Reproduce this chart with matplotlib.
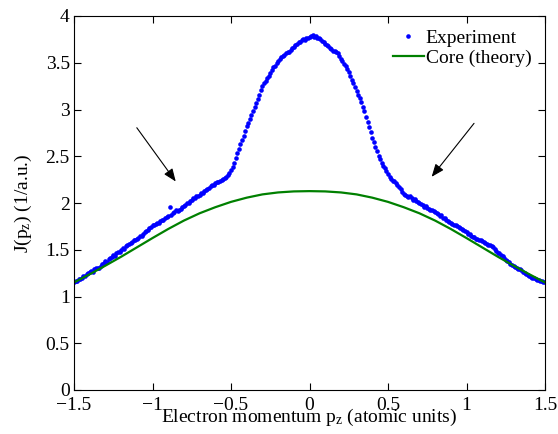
import numpy as np
import matplotlib
matplotlib.use('Agg')
import matplotlib.pyplot as plt

plt.rcParams['font.family'] = ['Liberation Serif', 'DejaVu Serif']
plt.rcParams['mathtext.fontset'] = 'custom'
plt.rcParams['mathtext.rm'] = 'Liberation Serif'
plt.rcParams['mathtext.it'] = 'Liberation Serif:italic'
plt.rcParams['font.size'] = 14

# measured Compton profile, one point every 0.01 a.u. from -1.5 to 1.5
exp_p = np.round(np.arange(-150, 151) / 100.0, 2)
exp_j = [
    1.16, 1.17, 1.17, 1.19, 1.19, 1.20, 1.22, 1.22, 1.24, 1.25,
    1.26, 1.27, 1.26, 1.29, 1.30, 1.31, 1.31, 1.33, 1.35, 1.36,
    1.38, 1.37, 1.40, 1.41, 1.42, 1.44, 1.43, 1.46, 1.48, 1.48,
    1.50, 1.52, 1.51, 1.54, 1.55, 1.56, 1.57, 1.58, 1.60, 1.60,
    1.62, 1.63, 1.65, 1.65, 1.67, 1.69, 1.70, 1.71, 1.73, 1.74,
    1.76, 1.76, 1.78, 1.79, 1.79, 1.81, 1.82, 1.82, 1.84, 1.85,
    1.86, 1.96, 1.87, 1.89, 1.90, 1.92, 1.91, 1.93, 1.94, 1.96,
    1.97, 1.98, 2.00, 2.00, 2.02, 2.03, 2.05, 2.05, 2.07, 2.08,
    2.09, 2.11, 2.11, 2.13, 2.14, 2.15, 2.16, 2.18, 2.19, 2.19,
    2.21, 2.22, 2.22, 2.24, 2.25, 2.26, 2.27, 2.28, 2.30, 2.32,
    2.35, 2.39, 2.43, 2.48, 2.53, 2.58, 2.63, 2.67, 2.72, 2.77,
    2.82, 2.86, 2.90, 2.94, 2.98, 3.03, 3.07, 3.11, 3.16, 3.21,
    3.25, 3.28, 3.31, 3.34, 3.36, 3.39, 3.42, 3.45, 3.47, 3.50,
    3.52, 3.54, 3.56, 3.57, 3.58, 3.60, 3.62, 3.62, 3.64, 3.66,
    3.67, 3.69, 3.70, 3.72, 3.72, 3.74, 3.75, 3.74, 3.76, 3.77,
    3.78, 3.79, 3.80, 3.78, 3.79, 3.77, 3.76, 3.75, 3.73, 3.72,
    3.70, 3.69, 3.68, 3.66, 3.65, 3.63, 3.63, 3.61, 3.60, 3.57,
    3.54, 3.52, 3.49, 3.46, 3.43, 3.40, 3.36, 3.32, 3.28, 3.24,
    3.20, 3.16, 3.12, 3.08, 3.03, 2.98, 2.92, 2.87, 2.81, 2.76,
    2.70, 2.65, 2.60, 2.56, 2.50, 2.47, 2.43, 2.40, 2.37, 2.34,
    2.31, 2.28, 2.26, 2.24, 2.23, 2.21, 2.19, 2.17, 2.15, 2.12,
    2.10, 2.09, 2.08, 2.06, 2.07, 2.05, 2.03, 2.04, 2.02, 2.01,
    2.00, 1.99, 1.98, 1.96, 1.97, 1.95, 1.94, 1.93, 1.92, 1.91,
    1.90, 1.89, 1.88, 1.86, 1.87, 1.84, 1.84, 1.82, 1.81, 1.80,
    1.79, 1.78, 1.77, 1.76, 1.75, 1.74, 1.73, 1.72, 1.71, 1.70,
    1.69, 1.67, 1.67, 1.65, 1.64, 1.64, 1.62, 1.61, 1.60, 1.60,
    1.59, 1.58, 1.57, 1.56, 1.55, 1.55, 1.54, 1.53, 1.51, 1.49,
    1.47, 1.46, 1.44, 1.43, 1.41, 1.39, 1.38, 1.37, 1.35, 1.34,
    1.33, 1.32, 1.31, 1.29, 1.29, 1.28, 1.26, 1.25, 1.24, 1.23,
    1.22, 1.21, 1.20, 1.20, 1.19, 1.18, 1.18, 1.17, 1.17, 1.16, 1.15,
]

# core contribution (theory), every 0.1 a.u.
core_p = np.round(np.arange(-15, 16) / 10.0, 1)
core_half = [2.127, 2.124, 2.113, 2.092, 2.057, 2.012, 1.955, 1.890,
             1.812, 1.722, 1.625, 1.525, 1.425, 1.330, 1.238, 1.150]
core_j = core_half[:0:-1] + core_half

fig = plt.figure(figsize=(5.58, 4.34), dpi=100)
ax = fig.add_axes([74 / 558, 44 / 434, 471 / 558, 374 / 434])

ax.plot(exp_p, exp_j, 'o', color='#0000ff', markersize=3.3, markeredgewidth=0,
        label='Experiment')
ax.plot(core_p, core_j, '-', color='#008000', linewidth=1.6, label='Core (theory)')

ax.annotate('', xy=(-0.852, 2.23), xytext=(-1.10, 2.805),
            arrowprops=dict(arrowstyle='-|>,head_length=0.55,head_width=0.22',
                            color='black', lw=0.8, shrinkA=0, shrinkB=0))
ax.annotate('', xy=(0.778, 2.28), xytext=(1.048, 2.852),
            arrowprops=dict(arrowstyle='-|>,head_length=0.55,head_width=0.22',
                            color='black', lw=0.8, shrinkA=0, shrinkB=0))

ax.set_xlim(-1.5, 1.5)
ax.set_ylim(0, 4)
ax.set_xticks([-1.5, -1, -0.5, 0, 0.5, 1, 1.5])
ax.set_xticklabels(['\u22121.5', '\u22121', '\u22120.5', '0', '0.5', '1', '1.5'])
ax.set_yticks([0, 0.5, 1, 1.5, 2, 2.5, 3, 3.5, 4])
ax.set_yticklabels(['0', '0.5', '1', '1.5', '2', '2.5', '3', '3.5', '4'])
ax.tick_params(direction='in', top=True, right=True, length=5, width=0.8, pad=3)
ax.tick_params(axis='x', pad=5)
for s in ax.spines.values():
    s.set_linewidth(0.8)

ax.set_xlabel(r'Electron momentum p$_\mathrm{z}$ (atomic units)', labelpad=-5)
ax.set_ylabel(r'J(p$_\mathrm{z}$) (1/a.u.)', labelpad=8)

ax.legend(loc='upper right', frameon=False, handlelength=1.6, handletextpad=0.1,
          labelspacing=0.1, borderaxespad=0.3, numpoints=1, markerscale=1.0)

fig.savefig('out.png', dpi=100)
